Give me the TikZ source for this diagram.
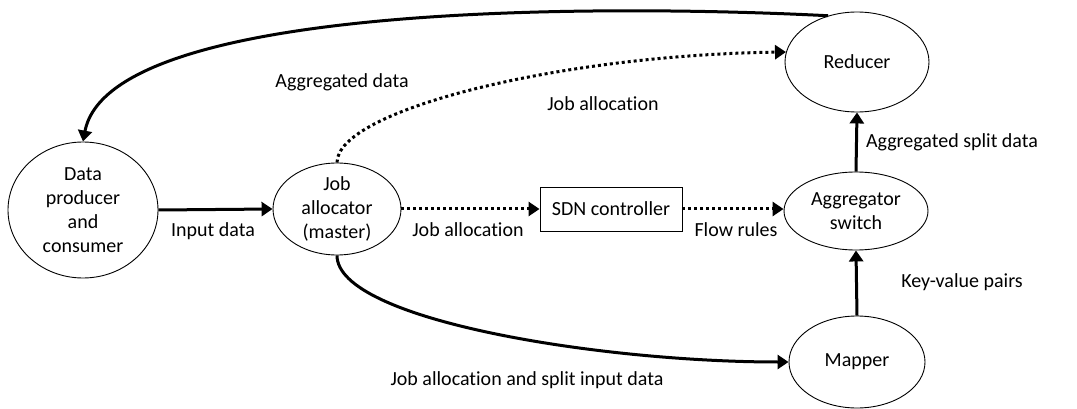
\documentclass[tikz,border=0pt]{standalone}
\usepackage{fontspec}
\setmainfont{Carlito}[Ligatures=NoCommon]
\usetikzlibrary{arrows.meta,shapes.geometric}
\begin{document}
\begin{tikzpicture}[x=1pt,y=-1pt,
  txt/.style={font=\fontsize{20}{24}\selectfont},
  ell/.style={txt,draw,ellipse,inner sep=0pt,line width=0.9pt,align=center},
  boxnode/.style={txt,draw,rectangle,line width=0.9pt,minimum width=142pt,minimum height=44pt,inner sep=0pt},
  lbl/.style={txt,inner sep=0pt},
  tip/.style={-{Triangle[length=11pt,width=14pt]}},
  solidarr/.style={tip,line width=3pt},
  dotarr/.style={tip,line width=3pt,dash pattern=on 3pt off 3pt}
]
\useasboundingbox (0,0) rectangle (1077,409);

\node[ell,minimum width=150pt,minimum height=136pt] (dpc) at (83,210) {Data\\producer\\and\\consumer};
\node[ell,minimum width=128pt,minimum height=92pt] (jal) at (337,209) {Job\\allocator\\(master)};
\node[boxnode] (sdn) at (611,209) {SDN controller};
\node[ell,minimum width=144pt,minimum height=78pt] (agg) at (856,211) {Aggregator\\switch};
\node[ell,minimum width=144pt,minimum height=100pt] (red) at (857,62) {Reducer};
\node[ell,minimum width=136pt,minimum height=92pt] (map) at (857,362) {Mapper};

\node[lbl] (l1) at (342,82) {Aggregated data};
\node[lbl] (l2) at (603,104) {Job allocation};
\node[lbl] (l3) at (213,231) {Input data};
\node[lbl] (l4) at (468,230) {Job allocation};
\node[lbl] (l5) at (736,230) {Flow rules};
\node[lbl] (l6) at (952,142) {Aggregated split data};
\node[lbl] (l7) at (962,282) {Key-value pairs};
\node[lbl] (l8) at (527,380) {Job allocation and split input data};

\draw[solidarr] (red.122) .. controls (620,5) and (110,0) .. (dpc.north);
\draw[dotarr] (jal.north) .. controls (337,110) and (560,55) .. (red.172);
\draw[solidarr] (dpc.east) -- (jal.west);
\draw[dotarr] (jal.east) -- (sdn.west);
\draw[dotarr] (sdn.east) -- (agg.west |- sdn.east);
\draw[solidarr] (agg.north) -- (red.south);
\draw[solidarr] (map.north) -- (agg.south);
\draw[solidarr] (jal.south) .. controls (337,320) and (600,362) .. (map.west);
\end{tikzpicture}
\end{document}
